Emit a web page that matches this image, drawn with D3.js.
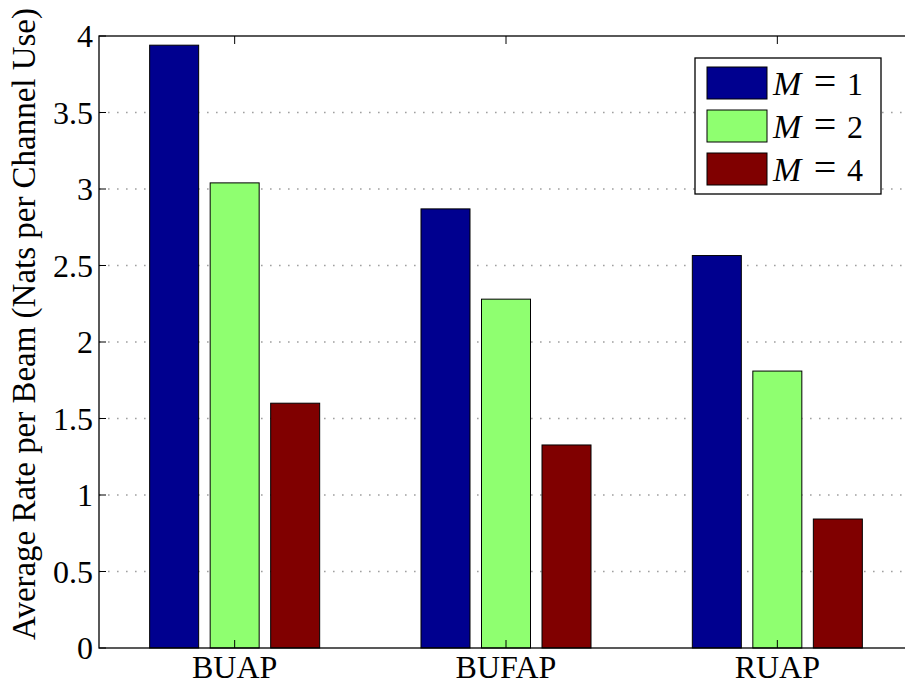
<!DOCTYPE html>
<html>
<head>
<meta charset="utf-8">
<script src="https://cdn.jsdelivr.net/npm/d3@7"></script>
</head>
<body>
<svg></svg>
<script>
// bar chart of average rate per beam

const categories = ['BUAP', 'BUFAP', 'RUAP'];
const seriesNames = ['1', '2', '4'];
const m1 = [3.94, 2.87, 2.565];
const m2 = [3.04, 2.28, 1.81];
const m4 = [1.60, 1.327, 0.843];
const yTicks = [0, 0.5, 1, 1.5, 2, 2.5, 3, 3.5, 4];
const colors = ['#00008f', '#8fff70', '#800000'];

const serif = 'Liberation Serif';
const width = 905, height = 684;
const plotLeft = 99, plotTop = 36, plotBottom = 648, plotRight = 913;

d3.select('body').style('margin', '0px');

const svg = d3.select('svg')
  .attr('width', width)
  .attr('height', height)
  .style('display', 'block');

const x = d3.scaleLinear().domain([0.5, 3.5]).range([plotLeft, plotRight]);
const y = d3.scaleLinear().domain([0, 4]).range([plotBottom, plotTop]);

const series = [m1, m2, m4];
const barW = 49 / (x(2) - x(1));   // bar width in data units
const offsets = [-0.223, 0, 0.223];

// dotted grid
svg.append('g')
  .selectAll('line')
  .data(yTicks.filter(t => t > 0 && t < 4))
  .join('line')
  .attr('x1', plotLeft).attr('x2', plotRight)
  .attr('y1', d => y(d)).attr('y2', d => y(d))
  .attr('stroke', '#a0a0a0')
  .attr('stroke-width', 1.6)
  .attr('stroke-dasharray', '1.6,7.4');

// bars
series.forEach((vals, s) => {
  svg.append('g')
    .selectAll('rect')
    .data(vals)
    .join('rect')
    .attr('x', (d, i) => x(i + 1 + offsets[s] - barW / 2))
    .attr('width', (d, i) => x(i + 1 + offsets[s] + barW / 2) - x(i + 1 + offsets[s] - barW / 2))
    .attr('y', d => y(d))
    .attr('height', d => y(0) - y(d))
    .attr('fill', colors[s])
    .attr('stroke', '#000')
    .attr('stroke-width', 1);
});

// frame
svg.append('rect')
  .attr('x', plotLeft).attr('y', plotTop)
  .attr('width', plotRight - plotLeft).attr('height', plotBottom - plotTop)
  .attr('fill', 'none')
  .attr('stroke', '#000')
  .attr('stroke-width', 1.3);

// axis labels are plain text elements so the serif face applies directly
svg.append('g')
  .selectAll('line')
  .data(yTicks)
  .join('line')
  .attr('x1', plotLeft).attr('x2', plotLeft + 7)
  .attr('y1', d => y(d)).attr('y2', d => y(d))
  .attr('stroke', '#000');

svg.append('g')
  .selectAll('text')
  .data(yTicks)
  .join('text')
  .attr('x', plotLeft - 6)
  .attr('y', d => y(d) + 11)
  .attr('text-anchor', 'end')
  .attr('font-size', 32)
  .style('font-family', serif)
  .text(d => d);

// category ticks, bottom and top
svg.append('g')
  .selectAll('line')
  .data([1, 2, 3, 1, 2, 3])
  .join('line')
  .attr('x1', d => x(d)).attr('x2', d => x(d))
  .attr('y1', (d, i) => i < 3 ? plotBottom : plotTop)
  .attr('y2', (d, i) => i < 3 ? plotBottom - 8 : plotTop + 8)
  .attr('stroke', '#000');

svg.append('g')
  .selectAll('text')
  .data(categories)
  .join('text')
  .attr('x', (d, i) => x(i + 1))
  .attr('y', plotBottom + 30)
  .attr('text-anchor', 'middle')
  .attr('font-size', 32)
  .style('font-family', serif)
  .text(d => d);

// y label, sized to span the same length as the reference
const ylab = svg.append('text')
  .attr('transform', `translate(35,${(plotTop + plotBottom) / 2 - 18}) rotate(-90)`)
  .attr('text-anchor', 'middle')
  .attr('font-size', 28)
  .style('font-family', serif)
  .text('Average Rate per Beam (Nats per Channel Use)');
const len = ylab.node().getComputedTextLength();
ylab.attr('font-size', 28 * 632 / len);

// legend
const legend = svg.append('g').attr('transform', 'translate(695,58)');
legend.append('rect')
  .attr('width', 186).attr('height', 136)
  .attr('fill', '#fff')
  .attr('stroke', '#000')
  .attr('stroke-width', 1.3);

const item = legend.selectAll('g.item')
  .data(seriesNames)
  .join('g')
  .attr('class', 'item')
  .attr('transform', (d, i) => `translate(12,${9 + i * 43})`);

item.append('rect')
  .attr('width', 60).attr('height', 32)
  .attr('fill', (d, i) => colors[i])
  .attr('stroke', '#000')
  .attr('stroke-width', 1);

item.append('text')
  .attr('x', 66).attr('y', 28)
  .attr('font-size', 34)
  .style('font-family', serif)
  .style('font-style', 'italic')
  .text('M');
item.append('text')
  .attr('x', 118).attr('y', 28)
  .attr('text-anchor', 'middle')
  .attr('font-size', 40)
  .style('font-family', serif)
  .text('=');
item.append('text')
  .attr('x', 140).attr('y', 28)
  .attr('font-size', 32)
  .style('font-family', serif)
  .text(d => d);
</script>
</body>
</html>
